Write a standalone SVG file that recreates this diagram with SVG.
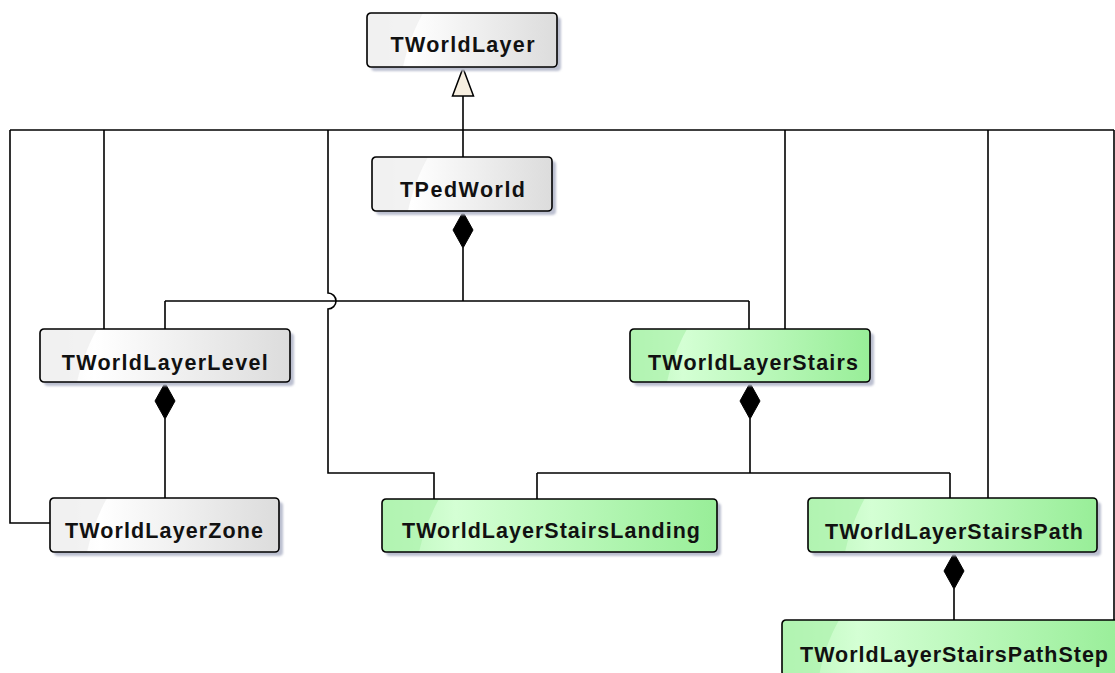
<svg xmlns="http://www.w3.org/2000/svg" width="1115" height="673" viewBox="0 0 1115 673">
  <defs>
    <linearGradient id="gGrey" x1="0" y1="0" x2="1" y2="0">
      <stop offset="0" stop-color="#f7f7f7"/>
      <stop offset="0.22" stop-color="#ffffff"/>
      <stop offset="1" stop-color="#dcdcdc"/>
    </linearGradient>
    <linearGradient id="gGreen" x1="0" y1="0" x2="1" y2="0">
      <stop offset="0" stop-color="#b9f6b9"/>
      <stop offset="0.22" stop-color="#d4ffd4"/>
      <stop offset="1" stop-color="#98ee98"/>
    </linearGradient>
    <filter id="soft" x="-10%" y="-20%" width="120%" height="140%">
      <feGaussianBlur stdDeviation="1.2"/>
    </filter>
  </defs>
  <style>
    .shadow { fill: #bcc0d0; filter: url(#soft); }
    .box { stroke: #000; stroke-width: 1.6; }
    .grey { fill: url(#gGrey); }
    .green { fill: url(#gGreen); }
    .glossGrey { fill: #efefef; opacity: 0.8; }
    .glossGreen { fill: #aef2ae; opacity: 0.7; }
    .label { font-family: "Liberation Sans", Arial, sans-serif; font-weight: bold; font-size: 21.5px; fill: #111; text-anchor: middle; }
    .wire { fill: none; stroke: #000; stroke-width: 1.6; }
    .diamond { fill: #000; stroke: #000; stroke-width: 1; }
    .hollow { fill: #f7efe0; stroke: #000; stroke-width: 1.5; }
  </style>

  <!-- connectors -->
  <g id="connectors">
    <!-- generalization tree into TWorldLayer -->
    <path class="wire" d="M463,157 V96"/>
    <path class="hollow" d="M463,68 L473.5,96 L452.5,96 Z"/>
    <path class="wire" d="M10,130 H1114"/>
    <path class="wire" d="M10,130 V523 H50"/>
    <path class="wire" d="M104,130 V329"/>
    <path class="wire" d="M328,130 V293 A8,8 0 0 1 328,309 V473 H434 V499"/>
    <path class="wire" d="M785,130 V329"/>
    <path class="wire" d="M988,130 V498"/>
    <path class="wire" d="M1114,130 V620"/>

    <!-- TPedWorld composition -->
    <path class="wire" d="M463,248 V301 M165,301 H749 M165,301 V329 M749,301 V329"/>
    <path class="diamond" d="M463,212 L473,230 L463,248 L453,230 Z"/>

    <!-- TWorldLayerLevel composition -->
    <path class="wire" d="M165,419 V498"/>
    <path class="diamond" d="M165,383 L175,401 L165,419 L155,401 Z"/>

    <!-- TWorldLayerStairs composition -->
    <path class="wire" d="M750,419 V473 M537,473 H950 M537,473 V499 M950,473 V498"/>
    <path class="diamond" d="M750,383 L760,401 L750,419 L740,401 Z"/>

    <!-- TWorldLayerStairsPath composition -->
    <path class="wire" d="M954,589 V620"/>
    <path class="diamond" d="M954,553 L964,571 L954,589 L944,571 Z"/>
  </g>

  <!-- nodes -->
  <g id="TWorldLayer" transform="translate(367,13)">
    <rect class="shadow" x="4" y="4" width="190" height="54" rx="4"/>
    <rect class="grey" width="190" height="54" rx="4"/>
    <path class="glossGrey" d="M4,0 H56 C46,18 40,36 36,54 H4 Q0,54 0,50 V4 Q0,0 4,0 Z"/>
    <rect class="box" width="190" height="54" rx="4" fill="none"/>
    <text class="label" x="95.5" y="39" textLength="144" lengthAdjust="spacing">TWorldLayer</text>
  </g>

  <g id="TPedWorld" transform="translate(372,157)">
    <rect class="shadow" x="4" y="4" width="180" height="54" rx="4"/>
    <rect class="grey" width="180" height="54" rx="4"/>
    <path class="glossGrey" d="M4,0 H56 C46,18 40,36 36,54 H4 Q0,54 0,50 V4 Q0,0 4,0 Z"/>
    <rect class="box" width="180" height="54" rx="4" fill="none"/>
    <text class="label" x="90.5" y="40" textLength="125" lengthAdjust="spacing">TPedWorld</text>
  </g>

  <g id="TWorldLayerLevel" transform="translate(40,329)">
    <rect class="shadow" x="4" y="4" width="250" height="53" rx="4"/>
    <rect class="grey" width="250" height="53" rx="4"/>
    <path class="glossGrey" d="M4,0 H57 C47,18 41,36 37,53 H4 Q0,53 0,49 V4 Q0,0 4,0 Z"/>
    <rect class="box" width="250" height="53" rx="4" fill="none"/>
    <text class="label" x="124.7" y="41" textLength="206" lengthAdjust="spacing">TWorldLayerLevel</text>
  </g>

  <g id="TWorldLayerStairs" transform="translate(630,329)">
    <rect class="shadow" x="4" y="4" width="240" height="53" rx="4"/>
    <rect class="green" width="240" height="53" rx="4"/>
    <path class="glossGreen" d="M4,0 H57 C47,18 41,36 37,53 H4 Q0,53 0,49 V4 Q0,0 4,0 Z"/>
    <rect class="box" width="240" height="53" rx="4" fill="none"/>
    <text class="label" x="123" y="41" textLength="210" lengthAdjust="spacing">TWorldLayerStairs</text>
  </g>

  <g id="TWorldLayerZone" transform="translate(50,498)">
    <rect class="shadow" x="4" y="4" width="229" height="54" rx="4"/>
    <rect class="grey" width="229" height="54" rx="4"/>
    <path class="glossGrey" d="M4,0 H57 C47,18 41,36 37,54 H4 Q0,54 0,50 V4 Q0,0 4,0 Z"/>
    <rect class="box" width="229" height="54" rx="4" fill="none"/>
    <text class="label" x="114" y="40" textLength="198" lengthAdjust="spacing">TWorldLayerZone</text>
  </g>

  <g id="TWorldLayerStairsLanding" transform="translate(382,499)">
    <rect class="shadow" x="4" y="4" width="335" height="53" rx="4"/>
    <rect class="green" width="335" height="53" rx="4"/>
    <path class="glossGreen" d="M4,0 H57 C47,18 41,36 37,53 H4 Q0,53 0,49 V4 Q0,0 4,0 Z"/>
    <rect class="box" width="335" height="53" rx="4" fill="none"/>
    <text class="label" x="169" y="39" textLength="298" lengthAdjust="spacing">TWorldLayerStairsLanding</text>
  </g>

  <g id="TWorldLayerStairsPath" transform="translate(808,498)">
    <rect class="shadow" x="4" y="4" width="289" height="54" rx="4"/>
    <rect class="green" width="289" height="54" rx="4"/>
    <path class="glossGreen" d="M4,0 H57 C47,18 41,36 37,54 H4 Q0,54 0,50 V4 Q0,0 4,0 Z"/>
    <rect class="box" width="289" height="54" rx="4" fill="none"/>
    <text class="label" x="146" y="41" textLength="258" lengthAdjust="spacing">TWorldLayerStairsPath</text>
  </g>

  <g id="TWorldLayerStairsPathStep" transform="translate(782,620)">
    <rect class="shadow" x="4" y="4" width="345" height="56" rx="4"/>
    <rect class="green" width="345" height="56" rx="4"/>
    <path class="glossGreen" d="M4,0 H57 C47,18 41,36 37,56 H4 Q0,56 0,52 V4 Q0,0 4,0 Z"/>
    <rect class="box" width="345" height="56" rx="4" fill="none"/>
    <text class="label" x="172" y="42" textLength="308" lengthAdjust="spacing">TWorldLayerStairsPathStep</text>
  </g>
</svg>
